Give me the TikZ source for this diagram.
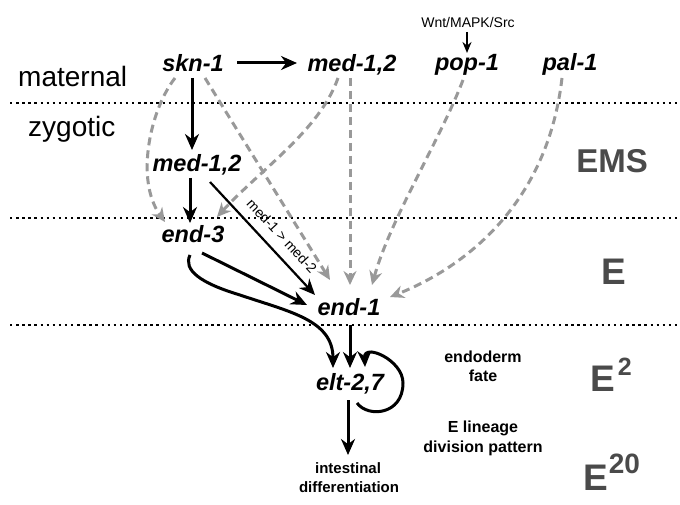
\documentclass[tikz,border=0pt]{standalone}
\usepackage{fontspec}
\setmainfont{Liberation Sans}
\usetikzlibrary{arrows.meta,calc}
\definecolor{dashgray}{HTML}{999999}
\definecolor{stagegray}{HTML}{4A4A4A}
\begin{document}
\begin{tikzpicture}[x=1pt,y=-1pt,
  gene/.style={font=\fontsize{23.5}{27}\selectfont\bfseries\itshape, anchor=base, inner sep=0pt},
  phase/.style={font=\fontsize{28}{32}\selectfont, anchor=base west, inner sep=0pt},
  stage/.style={font=\fontsize{33}{36}\selectfont\bfseries, text=stagegray, anchor=base, inner sep=0pt},
  bigstage/.style={font=\fontsize{37}{40}\selectfont\bfseries, text=stagegray, anchor=base west, inner sep=0pt},
  note/.style={font=\fontsize{16}{19}\selectfont\bfseries, anchor=base, inner sep=0pt},
  small/.style={font=\fontsize{15}{18}\selectfont\bfseries, anchor=base, inner sep=0pt},
  act/.style={line width=3pt, -{Stealth[length=16pt,width=14pt]}},
  thinact/.style={line width=2.2pt, -{Stealth[length=16pt,width=14pt]}},
  weak/.style={dashgray, line width=3pt, dash pattern=on 8pt off 5pt, -{Stealth[length=14pt,width=13pt]}},
  sep/.style={line width=2.4pt, dash pattern=on 2.4pt off 3.7pt}]
\useasboundingbox (0,0) rectangle (680,505);

% separators
\draw[sep] (10,103) -- (680,103);
\draw[sep] (10,218) -- (680,218);
\draw[sep] (10,325) -- (680,325);

% phase labels
\node[phase] (mat) at (18,87) {maternal};
\node[phase] (zyg) at (28,137) {zygotic};

% genes
\node[gene] (skn) at (193,72) {skn-1};
\node[gene] (med1) at (352,72) {med-1,2};
\node[gene] (pop) at (467,71) {pop-1};
\node[gene] (pal) at (570,71) {pal-1};
\node[font=\fontsize{14}{16}\selectfont, anchor=base, inner sep=0pt] (wnt) at (468,28) {Wnt/MAPK/Src};
\node[gene] (med2) at (197,172) {med-1,2};
\node[gene] (end3) at (193,243) {end-3};
\node[gene] (end1) at (349,315) {end-1};
\node[gene] (elt) at (350,390) {elt-2,7};
\node[small] (int) at (348,473) {intestinal};
\node[small] (diff) at (349,492) {differentiation};

% notes
\node[note] (endo) at (483,362) {endoderm};
\node[note] (fate) at (483,381) {fate};
\node[note] (elin) at (483,432) {E lineage};
\node[note] (divp) at (483,452) {division pattern};

% stages
\node[stage] (ems) at (612,173) {EMS};
\node[bigstage] (e1) at (601,284) {E};
\node[bigstage] (e2) at (590,391) {E\hspace{3pt}\raisebox{16pt}{\fontsize{25}{25}\selectfont 2}};
\node[bigstage] (e20) at (583,490) {E\hspace{1pt}\raisebox{17pt}{\fontsize{28}{28}\selectfont 20}};

% label of the med-1,2 -> end-1 edge
\node[rotate=-47.1, inner sep=0pt, font=\fontsize{14}{16}\selectfont] (medlbl) at (282,236) {med-1 > med-2};

% black activations
\draw[act] ($(skn.base)+(44,-9)$) -- ($(med1.base)+(-55,-9)$);
\draw[act] ($(skn.base)+(-1,6)$) -- ($(med2.base)+(-5,-22)$);
\draw[act] ($(med2.base)+(-7,6)$) -- ($(end3.base)+(-3,-20)$);
\draw[thinact] ($(med2.base)+(13,10)$) -- ($(end1.base)+(-34,-20)$);
\draw[act] ($(end3.base)+(9,10)$) -- ($(end1.base)+(-42,-10)$);
\draw[act] ($(end3.base)+(-3,12)$) .. controls (183,270) and (200,283) .. (240,295)
   .. controls (290,312) and (333,320) .. ($(elt.base)+(-17,-22)$);
\draw[act] ($(end1.base)+(1,10)$) -- ($(elt.base)+(0,-22)$);
\draw[act] ($(elt.base)+(7,13)$) .. controls (368,418) and (403,415) .. (403,383)
   .. controls (403,360) and (364,343) .. ($(elt.base)+(15,-23)$);
\draw[act] ($(elt.base)+(-2,10)$) -- ($(int.base)+(0,-18)$);
\draw[line width=2pt, -{Stealth[length=11pt,width=9pt]}] ($(wnt.base)+(-1,4)$) -- ($(pop.base)+(0,-18)$);

% gray dashed influences
\draw[weak] ($(skn.base)+(-18,6)$) .. controls (150,110) and (135,180) .. ($(end3.base)+(-28,-21)$);
\draw[weak] ($(skn.base)+(12,6)$) -- ($(end1.base)+(-19,-35)$);
\draw[weak] ($(med1.base)+(-14,6)$) .. controls (320,130) and (260,170) .. ($(end3.base)+(24,-26)$);
\draw[weak] ($(med1.base)+(-2,6)$) -- ($(end1.base)+(1,-30)$);
\draw[weak] ($(pop.base)+(-4,9)$) .. controls (440,140) and (390,220) .. ($(end1.base)+(23,-30)$);
\draw[weak] ($(pal.base)+(-8,7)$) .. controls (548,200) and (470,265) .. ($(end1.base)+(41,-18)$);
\end{tikzpicture}
\end{document}
